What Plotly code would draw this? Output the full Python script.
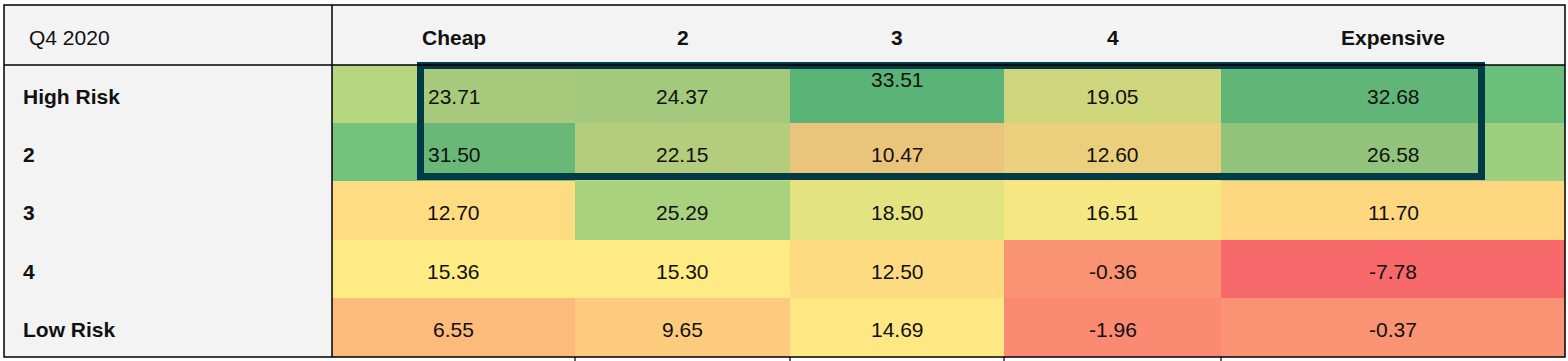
import numpy as np
import plotly.graph_objects as go

# ---------------- data ----------------
corner_label = "Q4 2020"
col_labels = ["Cheap", "2", "3", "4", "Expensive"]
row_labels = ["High Risk", "2", "3", "4", "Low Risk"]
row0 = [23.71, 24.37, 33.51, 19.05, 32.68]
row1 = [31.50, 22.15, 10.47, 12.60, 26.58]
row2 = [12.70, 25.29, 18.50, 16.51, 11.70]
row3 = [15.36, 15.30, 12.50, -0.36, -7.78]
row4 = [6.55, 9.65, 14.69, -1.96, -0.37]
values = [row0, row1, row2, row3, row4]

# ---------------- layout geometry (pixels) ----------------
W, H = 1568, 361
tbl_left, tbl_top, tbl_right, tbl_bottom = 4, 5, 1565, 357
col_edges = [332, 575, 790, 1004, 1221, 1565]
row_edges = [65, 123, 181, 240, 298, 357]
box_outer = dict(x0=417, x1=1485, y0=62, y1=180)
box_lw = 7
box_color = "#003b47"
font_family = "Liberation Sans, Arial, sans-serif"
fs = 21
txt_color = "#111111"

z = np.array(values)
lo, mid, hi = z.min(), np.percentile(z, 50), z.max()
pos = (mid - lo) / (hi - lo)
colorscale = [[0, "#F8696B"], [pos, "#FFEB84"], [1, "#63BE7B"]]

fig = go.Figure()
fig.add_trace(go.Heatmap(
    z=z, x=col_edges, y=row_edges, colorscale=colorscale,
    zmin=lo, zmax=hi, showscale=False, hoverinfo="skip",
))

shapes = []
shapes.append(dict(type="rect", xref="x", yref="y", layer="below",
                   x0=tbl_left, x1=tbl_right, y0=tbl_top, y1=row_edges[0],
                   fillcolor="#f3f3f3", line=dict(width=0)))
shapes.append(dict(type="rect", xref="x", yref="y", layer="below",
                   x0=tbl_left, x1=col_edges[0], y0=row_edges[0], y1=tbl_bottom,
                   fillcolor="#f3f3f3", line=dict(width=0)))
h = box_lw / 2
shapes.append(dict(type="rect", xref="x", yref="y", layer="above",
                   x0=box_outer["x0"] + h, x1=box_outer["x1"] - h,
                   y0=box_outer["y0"] + h, y1=box_outer["y1"] - h,
                   fillcolor="rgba(0,59,71,0.08)",
                   line=dict(color=box_color, width=box_lw)))
shapes.append(dict(type="rect", xref="x", yref="y", layer="above",
                   x0=tbl_left, x1=tbl_right, y0=tbl_top, y1=tbl_bottom,
                   line=dict(color="#000000", width=1.5)))
shapes.append(dict(type="line", xref="x", yref="y", layer="above",
                   x0=tbl_left, x1=tbl_right, y0=row_edges[0], y1=row_edges[0],
                   line=dict(color="#000000", width=1.5)))
shapes.append(dict(type="line", xref="x", yref="y", layer="above",
                   x0=col_edges[0], x1=col_edges[0], y0=tbl_top, y1=tbl_bottom,
                   line=dict(color="#000000", width=1.5)))
for xe in col_edges[1:-1]:
    shapes.append(dict(type="line", xref="x", yref="y", layer="above",
                       x0=xe, x1=xe, y0=tbl_bottom, y1=tbl_bottom + 4,
                       line=dict(color="#000000", width=1.2)))

ann = []
col_centers = [(col_edges[i] + col_edges[i + 1]) / 2 for i in range(len(col_labels))]
row_centers = [(row_edges[i] + row_edges[i + 1]) / 2 for i in range(len(row_labels))]
header_y = (tbl_top + row_edges[0]) / 2 + 2

ann.append(dict(x=tbl_left + 23, y=header_y, text=corner_label, xanchor="left",
                showarrow=False, font=dict(size=fs, color=txt_color, family=font_family)))
for j, lab in enumerate(col_labels):
    ann.append(dict(x=col_centers[j], y=header_y, text="<b>%s</b>" % lab,
                    showarrow=False, font=dict(size=fs, color=txt_color, family=font_family)))
for i, lab in enumerate(row_labels):
    ann.append(dict(x=tbl_left + 17, y=row_centers[i] + 2, text="<b>%s</b>" % lab,
                    xanchor="left", showarrow=False,
                    font=dict(size=fs, color=txt_color, family=font_family)))

for i in range(len(row_labels)):
    for j in range(len(col_labels)):
        a = dict(x=col_centers[j], y=row_centers[i] + 2, text="%.2f" % values[i][j],
                 showarrow=False, font=dict(size=fs, color=txt_color, family=font_family))
        if j == 0 and i < 2:
            a["x"] = box_outer["x0"] + box_lw + 2
            a["xanchor"] = "left"
        if i == 0 and j == 2:
            a["yshift"] = 17
        ann.append(a)

fig.update_layout(
    width=W, height=H, margin=dict(l=0, r=0, t=0, b=0),
    paper_bgcolor="white", plot_bgcolor="white",
    xaxis=dict(range=[0, W], visible=False, fixedrange=True),
    yaxis=dict(range=[H, 0], visible=False, fixedrange=True),
    shapes=shapes, annotations=ann, showlegend=False,
)
fig.write_html("out.html", config={"displayModeBar": False},
               post_script="document.body.style.margin='0';document.body.style.overflow='hidden';")
